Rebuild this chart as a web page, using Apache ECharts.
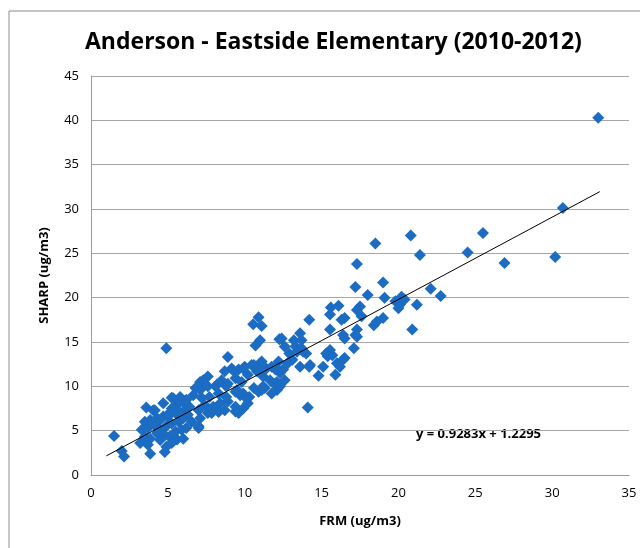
<!DOCTYPE html>
<html>
<head>
<meta charset="utf-8">
<script src="https://cdn.jsdelivr.net/npm/echarts@6/dist/echarts.min.js"></script>
<style>
  html, body { margin: 0; padding: 0; background: #fff; }
  #chart { width: 640px; height: 548px; }
</style>
</head>
<body>
<div id="chart"></div>
<script>
// FRM vs SHARP readings
var frm = [
  1.5, 2.0, 2.15, 3.85, 3.6, 4.05, 4.7, 5.25, 5.8, 5.6, 6.1, 6.2,
  3.5, 3.85, 4.3, 4.7, 5.1, 5.6, 3.3, 3.7, 4.2, 4.5, 4.9, 5.25, 5.7, 6.0,
  3.5, 3.85, 4.3, 4.8, 5.1, 5.5, 5.9, 6.2, 3.2, 3.7, 4.9, 5.25, 5.6, 6.0, 4.8,
  4.9, 5.35, 5.8, 6.2, 5.25, 5.7, 6.0, 5.0, 4.15, 3.95, 4.5, 4.5, 7.0,
  10.9, 10.55, 11.1, 11.0, 10.7, 8.9,
  8.7, 9.15, 9.6, 10.0, 10.45, 11.0, 11.4, 11.75,
  7.6, 7.1, 6.8, 7.4, 8.1, 8.5, 8.9, 9.4, 9.8, 10.2, 10.8, 11.2, 11.65,
  6.2, 6.65, 7.2, 7.7, 8.3, 8.8, 9.4, 9.9, 10.3, 10.9, 11.3,
  6.4, 7.0, 7.4, 7.95, 8.4, 8.9, 9.4, 9.6, 9.9, 10.2, 7.1, 6.55, 6.3, 7.6, 8.3, 8.7, 7.0,
  12.25, 9.3, 9.9, 10.6, 11.1, 12.2, 7.3, 7.1, 7.6, 8.2,
  8.8, 9.5, 9.7, 10.1, 10.6, 11.1, 9.4, 7.85,
  12.4, 12.6, 13.2, 13.6, 13.7, 13.4, 13.8, 13.6, 13.1, 12.8, 12.5, 12.3, 12.0, 11.9, 12.1, 12.6, 11.2, 11.0,
  13.3, 13.7, 12.9, 14.0, 14.25, 12.0, 11.75, 12.3, 12.1,
  14.2, 14.1,
  15.6, 16.1, 15.55, 16.3, 16.5, 15.55, 16.4, 16.5,
  17.3, 17.5, 17.6, 17.3, 17.2, 17.1, 17.3,
  18.4, 18.6, 19.0,
  15.55, 15.7, 16.0, 16.4, 15.3, 15.1, 14.8, 15.9, 14.2, 16.2, 15.4, 16.5,
  17.3, 18.5, 19.0, 17.2, 18.0, 19.1, 19.8, 20.1, 20.4, 20.0, 21.2, 20.9,
  20.8, 21.4, 22.1, 22.75, 20.2, 24.5, 25.5, 26.9, 30.2, 30.7, 33.0
];
var sharp = [
  4.4, 2.7, 2.1, 2.4, 7.6, 7.3, 8.1, 8.7, 8.8, 7.9, 8.3, 7.5,
  6.0, 6.2, 6.4, 6.6, 7.0, 6.8, 5.1, 5.3, 5.5, 5.1, 5.5, 5.8, 6.0, 6.4,
  4.3, 4.1, 4.7, 4.5, 4.3, 4.9, 5.1, 5.3, 3.6, 3.4, 3.2, 3.6, 4.0, 4.1, 2.6,
  14.3, 8.65, 8.3, 7.9, 7.5, 7.15, 6.6, 6.6, 7.3, 5.8, 6.2, 3.95, 5.3,
  17.8, 17.0, 16.8, 15.2, 14.6, 13.3,
  11.7, 12.0, 11.9, 12.2, 12.4, 12.6, 12.0, 12.2,
  11.1, 10.5, 9.8, 10.2, 10.0, 10.7, 10.3, 10.9, 10.5, 11.3, 11.7, 11.1, 10.7,
  8.5, 9.0, 8.7, 8.8, 9.2, 8.8, 9.4, 9.2, 8.8, 9.4, 9.8,
  7.7, 7.3, 7.9, 7.7, 8.1, 8.3, 7.7, 7.0, 7.5, 8.1, 6.4, 6.0, 6.8, 7.0, 7.1, 7.3, 5.5,
  15.3, 11.7, 12.0, 12.4, 12.8, 12.8, 10.7, 9.6, 10.0, 10.2,
  10.0, 9.6, 9.0, 8.65, 9.8, 9.6, 7.15, 7.0,
  15.4, 14.5, 15.2, 16.0, 15.2, 13.9, 13.9, 12.2, 13.0, 12.6, 11.9, 11.5, 11.9, 10.3, 9.6, 10.7, 10.0, 11.9,
  14.5, 14.3, 13.7, 13.7, 12.4, 12.2, 9.2, 10.0, 10.5,
  17.5, 7.6,
  18.9, 19.1, 18.1, 17.5, 17.7, 16.4, 15.8, 15.4,
  18.6, 19.0, 17.9, 16.4, 15.8, 14.3, 15.6,
  16.9, 17.3, 17.7,
  14.1, 13.5, 12.6, 13.0, 13.7, 12.2, 11.2, 11.3, 12.2, 12.2, 13.4, 13.2,
  23.8, 26.1, 21.7, 21.2, 20.3, 20.0, 19.6, 19.2, 19.8, 18.8, 19.2, 16.4,
  27.0, 24.8, 21.0, 20.2, 20.1, 25.1, 27.3, 23.9, 24.6, 30.1, 40.3
];
var slope = 0.9283;
var intercept = 1.2295;
var trendX = [1.0, 33.1];
var xTicks = [0, 5, 10, 15, 20, 25, 30, 35];
var yTicks = [0, 5, 10, 15, 20, 25, 30, 35, 40, 45];

var points = frm.map(function (x, i) { return [x, sharp[i]]; });
var trend = trendX.map(function (x) { return [x, slope * x + intercept]; });

var font = "'Open Sans', 'Liberation Sans', sans-serif";
var chart = echarts.init(document.getElementById('chart'));
chart.setOption({
  animation: false,
  textStyle: { fontFamily: font },
  title: {
    text: 'Anderson - Eastside Elementary (2010-2012)',
    left: 80,
    top: 26,
    textStyle: { fontSize: 23, fontWeight: 'bold', color: '#000', fontFamily: font }
  },
  graphic: [{
    type: 'rect',
    shape: { x: 9, y: 11, width: 700, height: 600 },
    style: { fill: 'none', stroke: '#8c8c8c', lineWidth: 1 },
    silent: true
  }, {
    type: 'text',
    left: 416,
    top: 428,
    style: { text: 'y = 0.9283x + 1.2295', font: 'bold 13px ' + font, fill: '#000' }
  }],
  grid: { left: 91, right: 11, top: 76, bottom: 73 },
  xAxis: {
    type: 'value',
    min: xTicks[0],
    max: xTicks[xTicks.length - 1],
    interval: 5,
    name: 'FRM (ug/m3)',
    nameLocation: 'middle',
    nameGap: 40,
    nameTextStyle: { fontWeight: 'bold', fontSize: 13, color: '#000' },
    axisLine: { lineStyle: { color: '#9a9a9a' } },
    axisTick: { show: false },
    axisLabel: { color: '#000', fontSize: 13, margin: 12 },
    splitLine: { show: false }
  },
  yAxis: {
    type: 'value',
    min: yTicks[0],
    max: yTicks[yTicks.length - 1],
    interval: 5,
    name: 'SHARP (ug/m3)',
    nameLocation: 'middle',
    nameGap: 40,
    nameTextStyle: { fontWeight: 'bold', fontSize: 13, color: '#000' },
    axisLine: { show: true, lineStyle: { color: '#9a9a9a' } },
    axisTick: { show: false },
    axisLabel: { color: '#000', fontSize: 13, margin: 12 },
    splitLine: { lineStyle: { color: '#a6a6a6', width: 1 } }
  },
  series: [{
    type: 'scatter',
    data: points,
    symbol: 'diamond',
    symbolSize: 12,
    itemStyle: { color: '#1b6cc2', opacity: 1 }
  }, {
    type: 'line',
    data: trend,
    symbol: 'none',
    lineStyle: { color: '#000', width: 1 },
    z: 5
  }]
});
</script>
</body>
</html>
